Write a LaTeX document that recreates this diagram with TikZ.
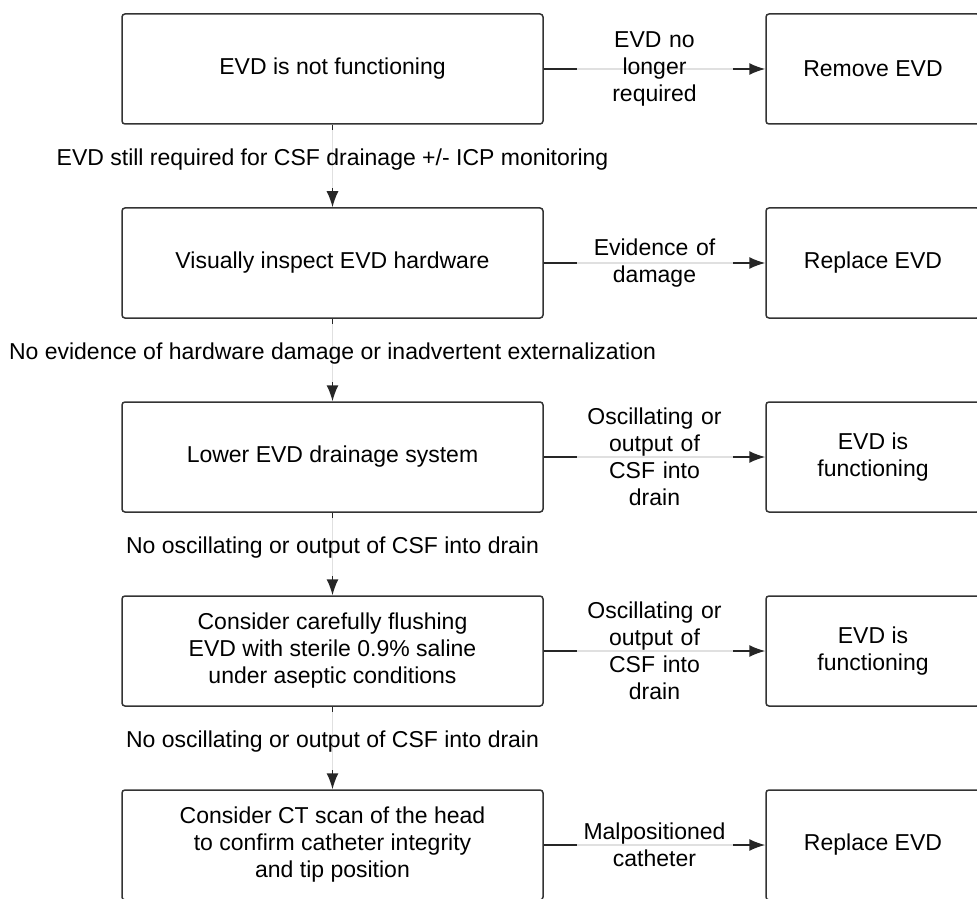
\documentclass[tikz,border=0pt]{standalone}
\usepackage{fontspec}
\setmainfont{Liberation Sans}
\usetikzlibrary{arrows.meta}

\begin{document}
\begin{tikzpicture}[x=0.5pt,y=-0.5pt,
  txt/.style={font=\fontsize{11.5}{13.5}\selectfont},
  box/.style={txt,draw=black!80,line width=0.75pt,rounded corners=1.5pt,minimum width=210.5pt,minimum height=55pt,inner sep=0pt,align=center},
  endbox/.style={box,minimum width=107pt},
  arr/.style={draw=black!85,line width=0.75pt,-{Latex[length=8pt,width=6pt]}},
  hlab/.style={txt,fill=white,fill opacity=0.86,text opacity=1,text width=74pt,align=center,inner sep=2pt},
  vlab/.style={txt,fill=white,fill opacity=0.86,text opacity=1,minimum height=29pt,inner xsep=1pt,pos=0.42}]
\useasboundingbox (0,0) rectangle (977,898);
\clip (0,0) rectangle (977,898);
\node[box] (nofunc) at (332.5,69) {EVD is not functioning};
\node[endbox] (remove) at (873,69) {Remove EVD};
\node[box] (inspect) at (332.5,263) {Visually inspect EVD hardware};
\node[endbox] (replace1) at (873,263) {Replace EVD};
\node[box] (lower) at (332.5,457) {Lower EVD drainage system};
\node[endbox] (works1) at (873,457) {EVD is\\functioning};
\node[box] (flush) at (332.5,651) {Consider carefully flushing\\EVD with sterile 0.9\% saline\\under aseptic conditions};
\node[endbox] (works2) at (873,651) {EVD is\\functioning};
\node[box] (ctscan) at (332.5,845) {Consider CT scan of the head\\to confirm catheter integrity\\and tip position};
\node[endbox] (replace2) at (873,845) {Replace EVD};

\draw[arr] (nofunc) -- node[hlab] {EVD no\\longer\\required} (remove);
\draw[arr] (inspect) -- node[hlab] {Evidence of\\damage} (replace1);
\draw[arr] (lower) -- node[hlab] {Oscillating or\\output of\\CSF into\\drain} (works1);
\draw[arr] (flush) -- node[hlab] {Oscillating or\\output of\\CSF into\\drain} (works2);
\draw[arr] (ctscan) -- node[hlab] {Malpositioned\\catheter} (replace2);

\draw[arr] (nofunc) -- node[vlab] {EVD still required for CSF drainage +/- ICP monitoring} (inspect);
\draw[arr] (inspect) -- node[vlab] {No evidence of hardware damage or inadvertent externalization} (lower);
\draw[arr] (lower) -- node[vlab] {No oscillating or output of CSF into drain} (flush);
\draw[arr] (flush) -- node[vlab] {No oscillating or output of CSF into drain} (ctscan);
\end{tikzpicture}
\end{document}
